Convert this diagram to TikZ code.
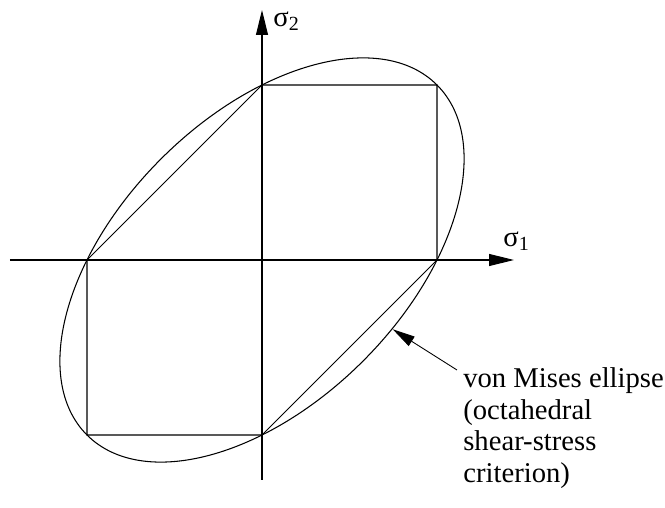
\documentclass[tikz,border=0pt]{standalone}
\usepackage{fontspec}
\setmainfont{Liberation Serif}
\usetikzlibrary{arrows.meta}

\begin{document}
\begin{tikzpicture}[
    axis/.style={-{Triangle[length=5mm, width=2.4mm]}, line width=0.6pt},
    edge/.style={line width=0.6pt},
    lead/.style={-{Triangle[length=4.5mm, width=2.2mm]}, line width=0.5pt},
    lbl/.style={font=\fontsize{16.3}{18}\selectfont, inner sep=0pt}
]
    \useasboundingbox (-5.24,-4.96) rectangle (8.06,5.2);

    % stress axes
    \coordinate (o) at (0,0);
    \draw[axis] (-5.04,0) -- (5.04,0);
    \draw[axis] (0,-4.4) -- (0,5.0);
    \node[lbl, anchor=west] (s1) at (4.82,0.38) {σ\textsubscript{1}};
    \node[lbl, anchor=west] (s2) at (0.22,4.78) {σ\textsubscript{2}};

    % Tresca hexagon
    \coordinate (p1) at (0,3.5);
    \coordinate (p2) at (3.5,3.5);
    \coordinate (p3) at (3.5,0);
    \coordinate (p4) at (0,-3.5);
    \coordinate (p5) at (-3.5,-3.5);
    \coordinate (p6) at (-3.5,0);
    \draw[edge] (p1) -- (p2) -- (p3) -- (p4) -- (p5) -- (p6) -- cycle;

    % von Mises ellipse
    \draw[edge, rotate=45] (o) ellipse ({3.5*sqrt(2)} and {3.5*sqrt(2/3)});

    % note
    \node[lbl, anchor=north west, align=left] (note) at (4.02,-2.15)
        {von Mises ellipse\\(octahedral\\shear-stress\\criterion)};
    \coordinate (tip) at (2.614,-1.386);
    \coordinate (tail) at (3.9,-2.2);
    \draw[lead] (tail) -- (tip);
\end{tikzpicture}
\end{document}
